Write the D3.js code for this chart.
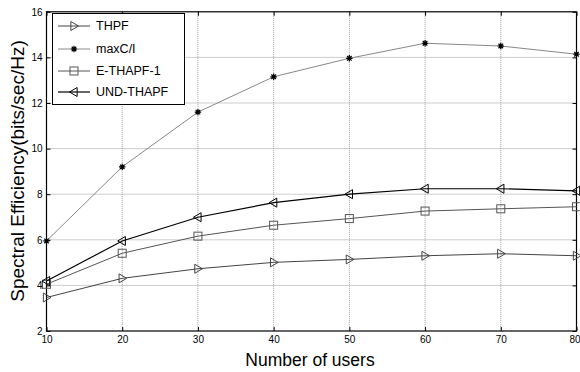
<!DOCTYPE html>
<html><head><meta charset="utf-8">
<script src="https://cdn.jsdelivr.net/npm/d3@7"></script>
<style>body{margin:0;background:#fff}svg{display:block}</style>
</head><body>
<svg id="c" width="580" height="372"></svg>
<script>
const users = [10,20,30,40,50,60,70,80];
const xTicks = [10,20,30,40,50,60,70,80];
const yTicks = [2,4,6,8,10,12,14,16];
const thpf   = [3.47,4.31,4.73,5.01,5.14,5.30,5.39,5.30];
const maxCI  = [5.95,9.20,11.60,13.15,13.96,14.62,14.50,14.14];
const ethapf = [4.05,5.41,6.16,6.64,6.93,7.26,7.36,7.45];
const und    = [4.19,5.95,6.99,7.63,8.00,8.24,8.24,8.15];
const seriesNames = ["THPF","maxC/I","E-THAPF-1","UND-THAPF"];

const series = [
  {name:seriesNames[0], vals:thpf,   color:"#444", mk:"tri-r", w:1},
  {name:seriesNames[1], vals:maxCI,  color:"#888", mk:"star",  w:1},
  {name:seriesNames[2], vals:ethapf, color:"#555", mk:"sq",    w:1},
  {name:seriesNames[3], vals:und,    color:"#000", mk:"tri-l", w:1.2}
];

const svg = d3.select("#c");
const L=46.5, R=576.5, T=11.8, B=331;
const x = d3.scaleLinear().domain([10,80]).range([L,R]);
const y = d3.scaleLinear().domain([2,16]).range([B,T]);
const font = "Liberation Sans, Arial, sans-serif";

// grid
const g = svg.append("g");
g.selectAll(".vg").data(xTicks.slice(1,-1)).join("line")
  .attr("x1",d=>x(d)).attr("x2",d=>x(d)).attr("y1",T).attr("y2",B)
  .attr("stroke","#9a9a9a").attr("stroke-width",1).attr("stroke-dasharray","1,1");
g.selectAll(".hg").data(yTicks.slice(1,-1)).join("line")
  .attr("y1",d=>y(d)).attr("y2",d=>y(d)).attr("x1",L).attr("x2",R)
  .attr("stroke","#9a9a9a").attr("stroke-width",1).attr("stroke-dasharray","1,1");

// axes
const xa = svg.append("g").attr("transform",`translate(0,${B})`)
  .call(d3.axisBottom(x).tickValues(xTicks).tickSize(-4).tickPadding(6));
const xt = svg.append("g").attr("transform",`translate(0,${T})`)
  .call(d3.axisTop(x).tickValues(xTicks).tickSize(-4).tickFormat(""));
const ya = svg.append("g").attr("transform",`translate(${L},0)`)
  .call(d3.axisLeft(y).tickValues(yTicks).tickSize(-4).tickPadding(4));
const yr = svg.append("g").attr("transform",`translate(${R},0)`)
  .call(d3.axisRight(y).tickValues(yTicks).tickSize(-4).tickFormat(""));
[xa,xt,ya,yr].forEach(a=>{
  a.select(".domain").remove();
  a.selectAll("line").attr("stroke","#000");
  a.selectAll("text").attr("font-family",font).attr("font-size",10).attr("fill","#000");
});
xa.selectAll("text").attr("dy","0.55em");
// keep the last x tick label inside the window
xa.selectAll(".tick").filter(d=>d===80).select("text")
  .attr("text-anchor","end").attr("x",580-R);
svg.append("rect").attr("x",L).attr("y",T).attr("width",R-L).attr("height",B-T)
  .attr("fill","none").attr("stroke","#000").attr("stroke-width",1.2);

// markers
function marker(sel, type, cx, cy, color){
  const s = 4.5;
  if(type==="tri-r"){
    sel.append("path").attr("d",`M${cx-s*0.7},${cy-s}L${cx+s},${cy}L${cx-s*0.7},${cy+s}Z`)
      .attr("fill","none").attr("stroke",color).attr("stroke-width",1);
  } else if(type==="tri-l"){
    sel.append("path").attr("d",`M${cx+s*0.7},${cy-s}L${cx-s},${cy}L${cx+s*0.7},${cy+s}Z`)
      .attr("fill","none").attr("stroke",color).attr("stroke-width",1);
  } else if(type==="sq"){
    sel.append("rect").attr("x",cx-4).attr("y",cy-4).attr("width",8).attr("height",8)
      .attr("fill","none").attr("stroke",color).attr("stroke-width",1);
  } else if(type==="star"){
    const r=3.2;
    let d="";
    [0,45,90,135].forEach(a=>{const t=a*Math.PI/180;
      d+=`M${cx-r*Math.cos(t)},${cy-r*Math.sin(t)}L${cx+r*Math.cos(t)},${cy+r*Math.sin(t)}`;});
    sel.append("path").attr("d",d).attr("stroke","#000").attr("stroke-width",1.2);
    sel.append("circle").attr("cx",cx).attr("cy",cy).attr("r",1.6).attr("fill","#000");
  }
}

const line = d3.line().x((d,i)=>x(users[i])).y(d=>y(d));
series.forEach(s=>{
  svg.append("path").datum(s.vals).attr("d",line).attr("fill","none")
    .attr("stroke",s.color).attr("stroke-width",s.w);
  const mg = svg.append("g");
  s.vals.forEach((v,i)=>marker(mg,s.mk,x(users[i]),y(v),s.color));
});

// legend
const lg = svg.append("g");
lg.append("rect").attr("x",52.5).attr("y",13.5).attr("width",132).attr("height",91)
  .attr("fill","#fff").attr("stroke","#000").attr("stroke-width",1);
const ly = [26,49,71,92];
series.forEach((s,i)=>{
  lg.append("line").attr("x1",58).attr("x2",90).attr("y1",ly[i]).attr("y2",ly[i])
    .attr("stroke",s.color).attr("stroke-width",s.w);
  marker(lg,s.mk,74,ly[i],s.color);
  lg.append("text").attr("x",96).attr("y",ly[i]).attr("dy","0.35em")
    .attr("font-family",font).attr("font-size",12.5).text(s.name);
});

// axis labels
svg.append("text").attr("x",310).attr("y",366).attr("text-anchor","middle")
  .attr("font-family",font).attr("font-size",17.5).text("Number of users");
svg.append("text").attr("transform",`translate(24,171) rotate(-90)`)
  .attr("text-anchor","middle").attr("font-family",font).attr("font-size",19)
  .text("Spectral Efficiency(bits/sec/Hz)");
</script>
</body></html>
